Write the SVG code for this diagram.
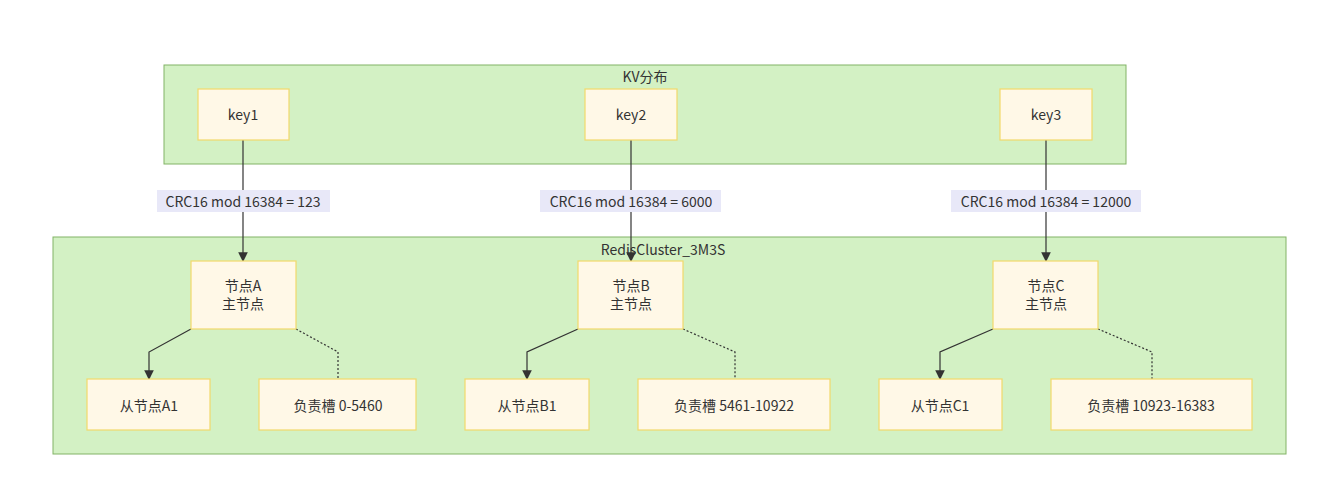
<svg xmlns="http://www.w3.org/2000/svg" width="1340" height="500" viewBox="0 0 1340 500">
<defs>
<style>
text{font-family:"Noto Sans CJK SC","Noto Sans",sans-serif;font-size:14px;fill:#333;text-anchor:middle;dominant-baseline:central}
.cl{fill:#d3f1c4;stroke:#82b366;stroke-width:1}
.nd{fill:#fff8e7;stroke:#f2d96b;stroke-width:1.2}
.lb{fill:#e8e8f8}
.e{fill:none;stroke:#333;stroke-width:1.2}
.d{fill:none;stroke:#333;stroke-width:1.2;stroke-dasharray:2,2}
</style>
<marker id="ar" viewBox="0 0 10 10" refX="9" refY="5" markerWidth="8" markerHeight="8" orient="auto"><path d="M0,0L10,5L0,10z" fill="#333"/></marker>
</defs>
<rect width="1340" height="500" fill="#fff"/>
<g id="kv"><rect class="cl" x="164" y="65" width="962" height="99"/><text x="645" y="76">KV分布</text></g>
<g id="rc"><rect class="cl" x="53" y="237" width="1233" height="217"/><text x="663" y="249">RedisCluster_3M3S</text></g>
<g id="connectors">
<path class="e" d="M243,140V261" marker-end="url(#ar)"/>
<path class="e" d="M631,140V261" marker-end="url(#ar)"/>
<path class="e" d="M1046,140V261" marker-end="url(#ar)"/>
<path class="e" d="M191,329L149,352V379" marker-end="url(#ar)"/>
<path class="e" d="M578,329L527,352V379" marker-end="url(#ar)"/>
<path class="e" d="M993,329L940,352V379" marker-end="url(#ar)"/>
<path class="d" d="M296,329L338,352V379"/>
<path class="d" d="M683,329L735,352V379"/>
<path class="d" d="M1098,329L1152,352V379"/>
<rect class="lb" x="157" y="190" width="173" height="22"/><text x="243" y="201">CRC16 mod 16384 = 123</text>
<rect class="lb" x="540" y="190" width="181" height="22"/><text x="631" y="201">CRC16 mod 16384 = 6000</text>
<rect class="lb" x="951" y="190" width="190" height="22"/><text x="1046" y="201">CRC16 mod 16384 = 12000</text>
</g>
<g id="key1"><rect class="nd" x="198" y="89" width="91" height="51"/><text x="243" y="114">key1</text></g>
<g id="key2"><rect class="nd" x="585" y="89" width="92" height="51"/><text x="631" y="114">key2</text></g>
<g id="key3"><rect class="nd" x="1000" y="89" width="92" height="51"/><text x="1046" y="114">key3</text></g>
<g id="nodeA"><rect class="nd" x="191" y="261" width="105" height="68"/><text x="243" y="285">节点A</text><text x="243" y="303">主节点</text></g>
<g id="nodeB"><rect class="nd" x="578" y="261" width="105" height="68"/><text x="631" y="285">节点B</text><text x="631" y="303">主节点</text></g>
<g id="nodeC"><rect class="nd" x="993" y="261" width="105" height="68"/><text x="1046" y="285">节点C</text><text x="1046" y="303">主节点</text></g>
<g id="a1"><rect class="nd" x="87" y="379" width="123" height="51"/><text x="149" y="405">从节点A1</text></g>
<g id="sa"><rect class="nd" x="259" y="379" width="157" height="51"/><text x="338" y="405">负责槽 0-5460</text></g>
<g id="b1"><rect class="nd" x="465" y="379" width="124" height="51"/><text x="527" y="405">从节点B1</text></g>
<g id="sb"><rect class="nd" x="638" y="379" width="192" height="51"/><text x="734" y="405">负责槽 5461-10922</text></g>
<g id="c1"><rect class="nd" x="879" y="379" width="123" height="51"/><text x="940" y="405">从节点C1</text></g>
<g id="sc"><rect class="nd" x="1051" y="379" width="201" height="51"/><text x="1151" y="405">负责槽 10923-16383</text></g>
</svg>
